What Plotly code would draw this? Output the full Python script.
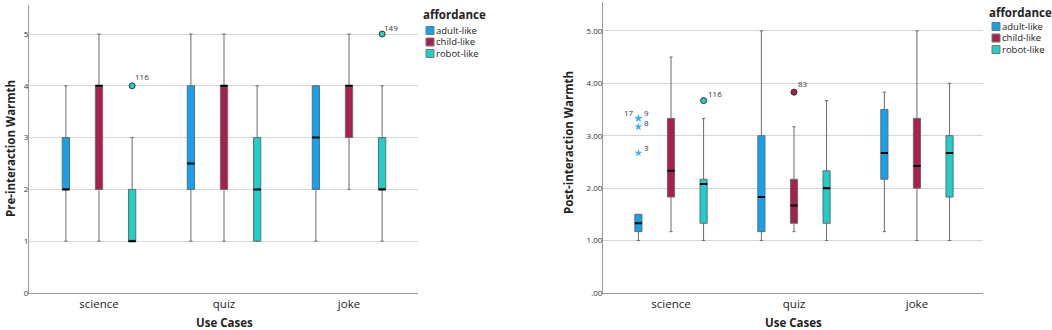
import plotly.graph_objects as go

use_cases = ["science", "quiz", "joke"]
affordances = ["adult-like", "child-like", "robot-like"]
fill_colors = ["#12a2f0", "#a7204f", "#1fcfc9"]

# Pre-interaction Warmth, rows = affordance, columns = use case
pre_low = [[1, 1, 1], [1, 1, 2], [1, 1, 1]]
pre_q1 = [[2, 2, 2], [2, 2, 3], [1, 1, 2]]
pre_med = [[2, 2.5, 3], [4, 4, 4], [1, 2, 2]]
pre_q3 = [[3, 4, 4], [4, 4, 4], [2, 3, 3]]
pre_high = [[4, 5, 4], [5, 5, 5], [3, 4, 4]]
pre_out_case = ["science", "joke"]
pre_out_aff = ["robot-like", "robot-like"]
pre_out_value = [4, 5]
pre_out_label = ["116", "149"]

# Post-interaction Warmth
post_low = [[1.0, 1.0, 1.17], [1.17, 1.17, 1.0], [1.0, 1.0, 1.0]]
post_q1 = [[1.17, 1.17, 2.17], [1.83, 1.33, 2.0], [1.33, 1.33, 1.83]]
post_med = [[1.33, 1.83, 2.67], [2.33, 1.67, 2.42], [2.08, 2.0, 2.67]]
post_q3 = [[1.5, 3.0, 3.5], [3.33, 2.17, 3.33], [2.17, 2.33, 3.0]]
post_high = [[1.5, 5.0, 3.83], [4.5, 3.17, 5.0], [3.33, 3.67, 4.0]]
post_out_case = ["science", "quiz"]
post_out_aff = ["robot-like", "child-like"]
post_out_value = [3.67, 3.83]
post_out_label = ["116", "83"]
post_ext_case = ["science", "science", "science", "science"]
post_ext_aff = ["adult-like", "adult-like", "adult-like", "adult-like"]
post_ext_value = [3.33, 3.33, 3.17, 2.67]
post_ext_label = ["17", "9", "8", "3"]

y_ticks_pre = [0, 1, 2, 3, 4, 5]
y_ticks_post = [0, 1, 2, 3, 4, 5]
y_ticktext_post = [".00", "1.00", "2.00", "3.00", "4.00", "5.00"]

OFFSET = 0.265
BOX_W = 0.058
FONT = "Open Sans"
W, H = 1052, 330


def fx(px):
    return px / W


def fy(py):
    return 1 - py / H


def xpos(case, aff):
    return use_cases.index(case) + (affordances.index(aff) - 1) * OFFSET


fig = go.Figure()


def add_panel(low, q1, med, q3, high, xa, ya):
    for j, aff in enumerate(affordances):
        xs = [xpos(c, aff) for c in use_cases]
        fig.add_trace(go.Box(
            x=xs, q1=q1[j], median=med[j], q3=q3[j],
            lowerfence=low[j], upperfence=high[j],
            width=BOX_W, whiskerwidth=0.45,
            fillcolor=fill_colors[j], line=dict(color="#6a6a6a", width=1),
            boxpoints=False, showlegend=False, xaxis=xa, yaxis=ya,
            name=aff, hoverinfo="skip"))
        # black median line
        fig.add_trace(go.Box(
            x=xs, q1=med[j], median=med[j], q3=med[j],
            lowerfence=med[j], upperfence=med[j],
            width=BOX_W, whiskerwidth=0,
            fillcolor="black", line=dict(color="black", width=2),
            boxpoints=False, showlegend=False, xaxis=xa, yaxis=ya,
            hoverinfo="skip"))


add_panel(pre_low, pre_q1, pre_med, pre_q3, pre_high, "x", "y")
add_panel(post_low, post_q1, post_med, post_q3, post_high, "x2", "y2")


def add_outliers(cases, affs, values, labels, xa, ya, symbol, shifts):
    xs = [xpos(c, a) for c, a in zip(cases, affs)]
    cols = [fill_colors[affordances.index(a)] for a in affs]
    if symbol == "circle":
        marker = dict(symbol="circle", size=6, color=cols, line=dict(color="#333", width=1))
    else:
        marker = dict(symbol="star", size=6, color="#3fb0f5", line=dict(width=0))
    fig.add_trace(go.Scatter(
        x=xs, y=values, mode="markers", marker=marker,
        showlegend=False, xaxis=xa, yaxis=ya, hoverinfo="skip", cliponaxis=False))
    for xv, yv, lab, (dx, dy, anc) in zip(xs, values, labels, shifts):
        fig.add_annotation(x=xv, y=yv, xref=xa, yref=ya, text=lab, showarrow=False,
                           xanchor=anc, yanchor="middle", xshift=dx, yshift=dy,
                           borderpad=0, font=dict(family=FONT, size=8, color="#333"))


add_outliers(pre_out_case, pre_out_aff, pre_out_value, pre_out_label, "x", "y",
             "circle", [(2, 9, "left"), (1, 7, "left")])
add_outliers(post_out_case, post_out_aff, post_out_value, post_out_label, "x2", "y2",
             "circle", [(3, 7, "left"), (3, 9, "left")])
add_outliers(post_ext_case, post_ext_aff, post_ext_value, post_ext_label, "x2", "y2",
             "star", [(-3, 6, "right"), (5, 6, "left"), (5, 4, "left"), (5, 6, "left")])

axis_common = dict(showline=True, linecolor="#9a9a9a", linewidth=1, ticks="",
                   zeroline=False, automargin=False)
xcommon = dict(axis_common, tickvals=[0, 1, 2], ticktext=use_cases, showgrid=False,
               tickfont=dict(family=FONT, size=11.5, color="#222"), ticklabelstandoff=0)
ycommon = dict(axis_common, showgrid=True, gridcolor="#d6d6d6", gridwidth=1,
               tickfont=dict(family=FONT, size=8, color="#333"), ticklabelstandoff=-2)

fig.update_layout(
    width=W, height=H,
    margin=dict(l=0, r=0, t=0, b=0),
    paper_bgcolor="white", plot_bgcolor="white",
    showlegend=False,
    xaxis=dict(xcommon, domain=[fx(29), fx(418)], range=[-0.56, 2.552]),
    xaxis2=dict(xcommon, domain=[fx(603), fx(983)], range=[-0.553, 2.537], anchor="y2"),
    yaxis=dict(ycommon, domain=[fy(293), fy(5)], range=[0, 5.56],
               tickvals=y_ticks_pre, ticktext=[str(v) for v in y_ticks_pre]),
    yaxis2=dict(ycommon, domain=[fy(293), fy(2)], range=[0, 5.55], anchor="x2",
                tickvals=y_ticks_post, ticktext=y_ticktext_post),
)

# axis titles
title_font = dict(family=FONT, size=11.5, color="#222")
for xc in (224, 793):
    fig.add_annotation(x=fx(xc), y=fy(322), xref="paper", yref="paper",
                       text="<b>Use Cases</b>", showarrow=False, borderpad=0,
                       xanchor="center", yanchor="middle", font=title_font)
fig.add_annotation(x=fx(10), y=fy(149), xref="paper", yref="paper",
                   text="<b>Pre-interaction Warmth</b>", textangle=-90, showarrow=False,
                   xanchor="center", yanchor="middle", font=title_font)
fig.add_annotation(x=fx(568), y=fy(143), xref="paper", yref="paper",
                   text="<b>Post-interaction Warmth</b>", textangle=-90, showarrow=False,
                   xanchor="center", yanchor="middle", font=title_font)


# legends (one per panel)
def add_legend(x_title, y_title, x_sq, y_items):
    fig.add_annotation(x=fx(x_title), y=fy(y_title), xref="paper", yref="paper",
                       text="<b>affordance</b>", showarrow=False, xanchor="left",
                       yanchor="middle", borderpad=0,
                       font=dict(family=FONT, size=11.5, color="#222"))
    for aff, col, yi in zip(affordances, fill_colors, y_items):
        fig.add_shape(type="rect", xref="paper", yref="paper",
                      x0=fx(x_sq), x1=fx(x_sq + 8),
                      y0=fy(yi + 4), y1=fy(yi - 4),
                      fillcolor=col, line=dict(color="#777", width=1))
        fig.add_annotation(x=fx(x_sq + 9), y=fy(yi), xref="paper", yref="paper",
                           text=aff, showarrow=False, xanchor="left", yanchor="middle",
                           borderpad=0, font=dict(family=FONT, size=9.5, color="#222"))


add_legend(422, 15, 426, [30.5, 42, 53.5])
add_legend(988, 12, 992, [26.5, 38, 49.5])

fig.write_html("out.html", config={"displayModeBar": False},
               post_script="document.body.style.margin='0';document.body.style.overflow='hidden';")
